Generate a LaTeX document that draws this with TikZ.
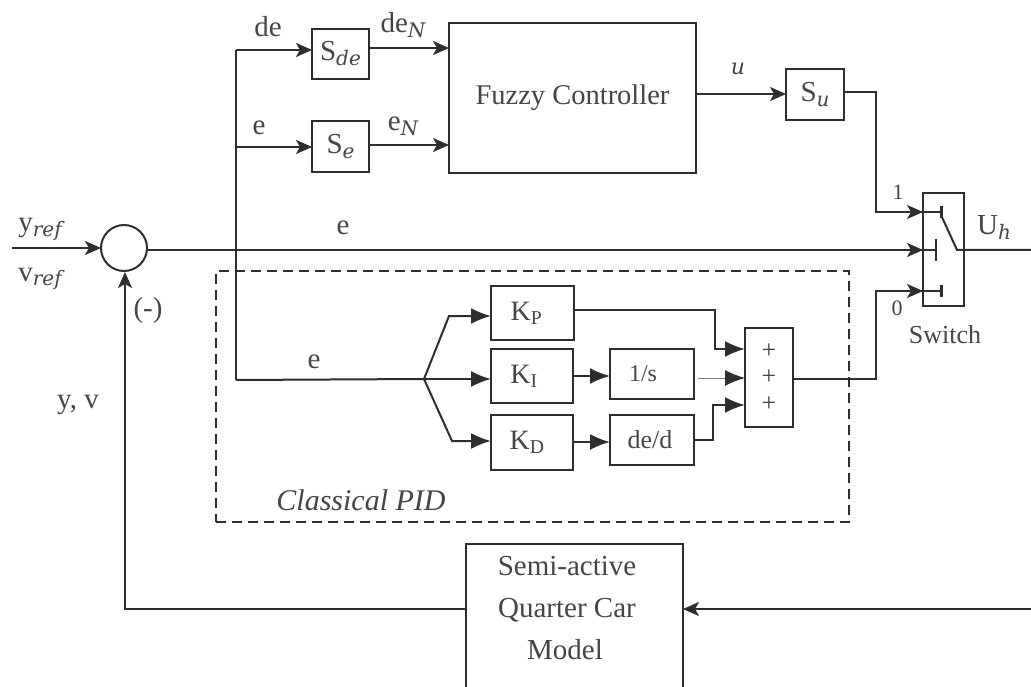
\documentclass[tikz,border=0pt]{standalone}
\usepackage{fontspec}
\setmainfont{Liberation Serif}
\newfontfamily\subfont{DejaVu Serif}
\usetikzlibrary{arrows.meta,calc}
\definecolor{ink}{HTML}{2E2E2E}
\definecolor{soft}{HTML}{454545}
\tikzset{
  wire/.style={draw=ink,line width=2pt},
  arr/.style={wire,-{Stealth[length=16pt,width=14pt,inset=4pt,fill=ink]}},
  bigarr/.style={wire,-{Latex[length=20pt,width=16pt,fill=ink]}},
  blk/.style={draw=ink,line width=2pt,fill=white,inner sep=0pt,outer sep=0pt,anchor=north west,text=soft},
  lbl/.style={text=soft,inner sep=0pt,font=\fontsize{29}{31}\selectfont},
}
\newcommand{\subi}[1]{{\raisebox{-5pt}{\subfont\itshape\fontsize{20}{22}\selectfont #1}}}
\newcommand{\boxat}[6]{\node[blk,minimum width=#3pt-#1pt,minimum height=#4pt-#2pt] (#5) at (#1,#2) {#6};}
\begin{document}
\begin{tikzpicture}[x=1pt,y=-1pt]
\useasboundingbox (0,0) rectangle (1031,687);
\fill[white] (0,0) rectangle (1031,687);
% dashed box
\node[draw=ink,line width=2pt,dash pattern=on 10pt off 6pt,anchor=north west,minimum width=633pt,minimum height=251pt,inner sep=0pt,outer sep=0pt] (pid) at (216,271) {};
% blocks
\boxat{312}{29}{369}{79}{sde}{\fontsize{29}{31}\selectfont S\subi{de}}
\boxat{312}{121}{369}{172}{se}{\fontsize{29}{31}\selectfont S\subi{e}}
\boxat{449}{23}{696}{173}{fuzzy}{\raisebox{4pt}{\fontsize{28.5}{30}\selectfont Fuzzy Controller}}
\boxat{786}{69}{844}{120}{su}{\fontsize{29}{31}\selectfont S\subi{u}}
\boxat{923}{193}{964}{306}{sw}{}
\boxat{491}{286}{574}{340}{kp}{\hspace*{-12pt}\fontsize{28}{30}\selectfont K\textsubscript{P}}
\boxat{491}{349}{573}{403}{ki}{\hspace*{-16pt}\fontsize{28}{30}\selectfont K\textsubscript{I}}
\boxat{491}{415}{573}{470}{kd}{\hspace*{-10pt}\fontsize{28}{30}\selectfont K\textsubscript{D}}
\boxat{610}{349}{694}{399}{int}{\hspace*{-18pt}\fontsize{24}{26}\selectfont 1/s}
\boxat{610}{415}{694}{465}{der}{\hspace*{-4pt}\fontsize{26}{28}\selectfont de/d}
\boxat{745}{328}{793}{427}{sum}{\begin{minipage}{34pt}\centering\fontsize{26}{26.5}\selectfont +\\+\\+\end{minipage}}
\node[blk,minimum width=217pt,minimum height=150pt] (car) at (466,544) {};
\node[lbl,anchor=base] (ct1) at (567,575) {Semi-active};
\node[lbl,anchor=base] (ct2) at (567,617) {Quarter Car};
\node[lbl,anchor=base] (ct3) at (565,659) {Model};
\node[draw=ink,line width=2pt,circle,minimum size=46pt,inner sep=0pt,outer sep=0pt,fill=white] (cmp) at (124,248) {};
% coordinates
\coordinate (in) at (12,248);
\coordinate (main) at (236,250);
\coordinate (top) at (236,50);
\coordinate (mid) at (236,147);
\coordinate (low) at (236,380);
\coordinate (fan) at (424,379);
\coordinate (c1) at (941,212);
\coordinate (c2) at (936,250);
\coordinate (c3) at (941,291);
\coordinate (piv) at (957,250);
\coordinate (outR) at (1031,250);
\coordinate (fbR) at (1031,609);
\coordinate (fb) at (125,609);
% connectors
\draw[arr] (in) -- (cmp.west);
\draw[wire] (cmp.east |- main) -- (c2);
\draw[arr] (905,250) -- (sw.west |- main);
\draw[wire] (low) -- (top);
\draw[arr] (top) -- (sde.west |- top);
\draw[arr] (mid) -- (se.west |- mid);
\draw[wire] (low) -- (fan);
\draw[arr] (sde.east |- 0,48) -- (fuzzy.west |- 0,48);
\draw[arr] (se.east |- 0,145) -- (fuzzy.west |- 0,145);
\draw[arr] (fuzzy.east |- 0,94) -- (su.west |- 0,94);
\draw[wire] (su.east |- 0,92) -- (876,92) -- (876,212) -- (c1);
\draw[arr] (876,212) -- (sw.west |- c1);
\draw[wire] (sum.east |- fan) -- (876,379) -- (876,291) -- (c3);
\draw[arr] (876,291) -- (sw.west |- c3);
\draw[wire,line width=3pt] (c1)+(0,-6) -- +(0,6);
\draw[wire,line width=3pt] (c3)+(0,-6) -- +(0,6);
\draw[wire] (c2)+(0,-11) -- +(0,11);
\draw[wire] (c1)+(0,3) -- (piv) -- (outR);
% PID branches
\draw[bigarr] (fan) -- (449,316) -- (kp.west |- 0,316);
\draw[bigarr] (fan) -- (ki.west |- fan);
\draw[bigarr] (fan) -- (452,441) -- (kd.west |- 0,441);
\draw[bigarr] (ki.east |- 0,376) -- (int.west |- 0,376);
\draw[bigarr] (kd.east |- 0,442) -- (der.west |- 0,442);
\draw[bigarr] (kp.east |- 0,310) -- (715,310) -- (715,349) -- (sum.west |- 0,349);
\draw[draw=soft!70,line width=1pt,-{Latex[length=20pt,width=16pt,fill=ink,color=ink]}] (698,378) -- (sum.west |- 0,378);
\draw[bigarr] (der.east |- 0,440) -- (713,440) -- (713,405) -- (sum.west |- 0,405);
% feedback
\draw[arr] (fbR) -- (car.east |- fbR);
\draw[arr] (car.west |- fb) -- (fb) -- (125,272);
% labels
\node[lbl,anchor=base] (l1) at (268,37) {de};
\node[lbl,anchor=base] (l2) at (259,135) {e};
\node[lbl,anchor=base] (l3) at (403,33) {de\subi{N}};
\node[lbl,anchor=base] (l4) at (403,131) {e\subi{N}};
\node[lbl,anchor=base] (l5) at (738,75) {\subfont\itshape\fontsize{22}{24}\selectfont u};
\node[lbl,anchor=base] (l6) at (343,235) {e};
\node[lbl,anchor=base] (l7) at (314,368) {e};
\node[lbl,anchor=base] (l8) at (40,232) {y\subi{ref}};
\node[lbl,anchor=base] (l9) at (40,281) {v\subi{ref}};
\node[lbl,anchor=base] (l10) at (148,317) {(-)};
\node[lbl,anchor=base] (l11) at (78,408) {y, v};
\node[lbl,anchor=base] (l12) at (994,235) {U\subi{h}};
\node[lbl,anchor=base,font=\fontsize{22}{24}\selectfont] (l13) at (898,200) {1};
\node[lbl,anchor=base,font=\fontsize{22}{24}\selectfont] (l14) at (897,315) {0};
\node[lbl,anchor=base,font=\fontsize{26}{28}\selectfont] (l15) at (945,343) {Switch};
\node[lbl,anchor=base,font=\fontsize{30}{32}\selectfont\itshape] (l16) at (361,510) {Classical PID};
\end{tikzpicture}
\end{document}
